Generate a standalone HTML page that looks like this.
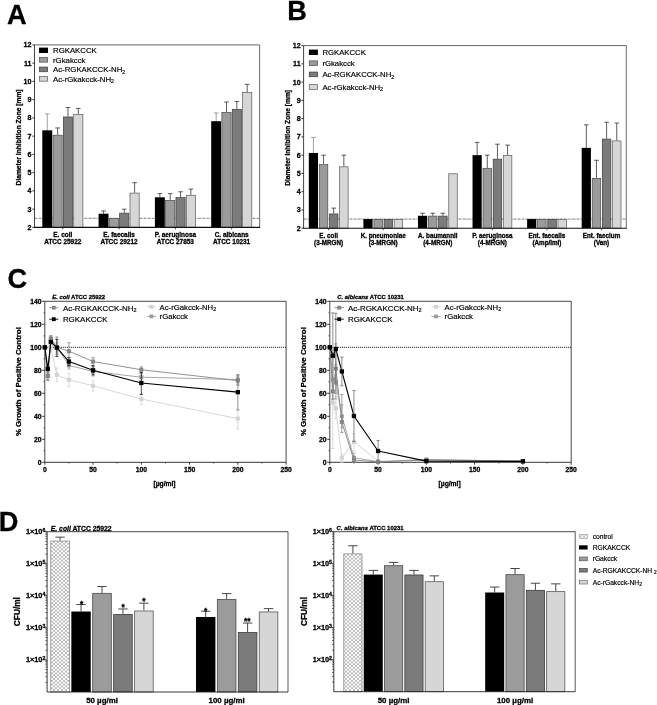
<!DOCTYPE html>
<html lang="en"><head><meta charset="utf-8"><title>Figure</title>
<style>
html,body{margin:0;padding:0;background:#fff;}
body{width:657px;height:705px;overflow:hidden;}
svg{display:block;filter:blur(0.32px);font-family:'Liberation Sans', Arial, sans-serif;}
text{stroke:#000;stroke-width:0.18px;}
text[font-weight=bold]{stroke-width:0.28px;}
</style></head><body>
<svg width="657" height="705" viewBox="0 0 657 705">
<defs>
<pattern id="hatch" width="4" height="3.7" patternUnits="userSpaceOnUse">
<rect width="4" height="3.7" fill="#fff"/>
<path d="M-1,-0.925 L5,4.625 M5,-0.925 L-1,4.625" stroke="#000" stroke-opacity="0.42" stroke-width="0.6" fill="none"/>
</pattern>
</defs>
<rect width="657" height="705" fill="#fff"/>

<text x="7.00" y="24.10" font-size="27.2" text-anchor="start" font-weight="bold" fill="#000" >A</text>
<text x="287.20" y="20.20" font-size="27.2" text-anchor="start" font-weight="bold" fill="#000" >B</text>
<text x="7.40" y="288.20" font-size="27.2" text-anchor="start" font-weight="bold" fill="#000" >C</text>
<text x="-1.20" y="530.70" font-size="27.2" text-anchor="start" font-weight="bold" fill="#000" >D</text>
<line x1="34.50" y1="218.28" x2="259.60" y2="218.28" stroke="#222" stroke-width="0.6" stroke-dasharray="2.4 0.6 0.6 0.6"/>
<line x1="47.25" y1="130.31" x2="47.25" y2="113.88" stroke="#8a8a8a" stroke-width="0.8" />
<line x1="44.95" y1="113.88" x2="49.55" y2="113.88" stroke="#8a8a8a" stroke-width="0.8" />
<rect x="42.30" y="130.31" width="9.90" height="97.09" fill="#000000" />
<line x1="57.60" y1="134.87" x2="57.60" y2="127.94" stroke="#333" stroke-width="0.8" />
<line x1="55.30" y1="127.94" x2="59.90" y2="127.94" stroke="#333" stroke-width="0.8" />
<rect x="53.00" y="135.22" width="9.20" height="92.18" fill="#9b9b9b" stroke="#4a4a4a" stroke-width="0.7" />
<line x1="67.95" y1="116.62" x2="67.95" y2="107.50" stroke="#333" stroke-width="0.8" />
<line x1="65.65" y1="107.50" x2="70.25" y2="107.50" stroke="#333" stroke-width="0.8" />
<rect x="63.35" y="116.97" width="9.20" height="110.43" fill="#7b7b7b" stroke="#3c3c3c" stroke-width="0.7" />
<line x1="78.30" y1="114.25" x2="78.30" y2="108.41" stroke="#333" stroke-width="0.8" />
<line x1="76.00" y1="108.41" x2="80.60" y2="108.41" stroke="#333" stroke-width="0.8" />
<rect x="73.70" y="114.60" width="9.20" height="112.80" fill="#d6d6d6" stroke="#5a5a5a" stroke-width="0.7" />
<line x1="103.55" y1="213.71" x2="103.55" y2="210.98" stroke="#333" stroke-width="0.8" />
<line x1="101.25" y1="210.98" x2="105.85" y2="210.98" stroke="#333" stroke-width="0.8" />
<rect x="98.60" y="213.71" width="9.90" height="13.69" fill="#000000" />
<rect x="109.30" y="218.62" width="9.20" height="8.78" fill="#9b9b9b" stroke="#4a4a4a" stroke-width="0.7" />
<line x1="124.25" y1="212.80" x2="124.25" y2="209.15" stroke="#333" stroke-width="0.8" />
<line x1="121.95" y1="209.15" x2="126.55" y2="209.15" stroke="#333" stroke-width="0.8" />
<rect x="119.65" y="213.15" width="9.20" height="14.25" fill="#7b7b7b" stroke="#3c3c3c" stroke-width="0.7" />
<line x1="134.60" y1="192.73" x2="134.60" y2="182.69" stroke="#333" stroke-width="0.8" />
<line x1="132.30" y1="182.69" x2="136.90" y2="182.69" stroke="#333" stroke-width="0.8" />
<rect x="130.00" y="193.08" width="9.20" height="34.32" fill="#d6d6d6" stroke="#5a5a5a" stroke-width="0.7" />
<line x1="159.85" y1="197.29" x2="159.85" y2="193.64" stroke="#333" stroke-width="0.8" />
<line x1="157.55" y1="193.64" x2="162.15" y2="193.64" stroke="#333" stroke-width="0.8" />
<rect x="154.90" y="197.29" width="9.90" height="30.11" fill="#000000" />
<line x1="170.20" y1="200.03" x2="170.20" y2="193.64" stroke="#333" stroke-width="0.8" />
<line x1="167.90" y1="193.64" x2="172.50" y2="193.64" stroke="#333" stroke-width="0.8" />
<rect x="165.60" y="200.38" width="9.20" height="27.02" fill="#9b9b9b" stroke="#4a4a4a" stroke-width="0.7" />
<line x1="180.55" y1="197.29" x2="180.55" y2="191.81" stroke="#333" stroke-width="0.8" />
<line x1="178.25" y1="191.81" x2="182.85" y2="191.81" stroke="#333" stroke-width="0.8" />
<rect x="175.95" y="197.64" width="9.20" height="29.76" fill="#7b7b7b" stroke="#3c3c3c" stroke-width="0.7" />
<line x1="190.90" y1="194.92" x2="190.90" y2="189.08" stroke="#333" stroke-width="0.8" />
<line x1="188.60" y1="189.08" x2="193.20" y2="189.08" stroke="#333" stroke-width="0.8" />
<rect x="186.30" y="195.27" width="9.20" height="32.13" fill="#d6d6d6" stroke="#5a5a5a" stroke-width="0.7" />
<line x1="216.15" y1="121.19" x2="216.15" y2="112.97" stroke="#8a8a8a" stroke-width="0.8" />
<line x1="213.85" y1="112.97" x2="218.45" y2="112.97" stroke="#8a8a8a" stroke-width="0.8" />
<rect x="211.20" y="121.19" width="9.90" height="106.22" fill="#000000" />
<line x1="226.50" y1="112.06" x2="226.50" y2="102.02" stroke="#333" stroke-width="0.8" />
<line x1="224.20" y1="102.02" x2="228.80" y2="102.02" stroke="#333" stroke-width="0.8" />
<rect x="221.90" y="112.41" width="9.20" height="114.99" fill="#9b9b9b" stroke="#4a4a4a" stroke-width="0.7" />
<line x1="236.85" y1="108.96" x2="236.85" y2="101.47" stroke="#333" stroke-width="0.8" />
<line x1="234.55" y1="101.47" x2="239.15" y2="101.47" stroke="#333" stroke-width="0.8" />
<rect x="232.25" y="109.31" width="9.20" height="118.09" fill="#7b7b7b" stroke="#3c3c3c" stroke-width="0.7" />
<line x1="247.20" y1="92.17" x2="247.20" y2="84.32" stroke="#333" stroke-width="0.8" />
<line x1="244.90" y1="84.32" x2="249.50" y2="84.32" stroke="#333" stroke-width="0.8" />
<rect x="242.60" y="92.52" width="9.20" height="134.88" fill="#d6d6d6" stroke="#5a5a5a" stroke-width="0.7" />
<line x1="34.50" y1="44.90" x2="259.60" y2="44.90" stroke="#555" stroke-width="0.9" />
<line x1="259.60" y1="44.90" x2="259.60" y2="227.40" stroke="#777" stroke-width="1.1" />
<line x1="34.50" y1="44.90" x2="34.50" y2="227.40" stroke="#444" stroke-width="1.0" />
<line x1="34.00" y1="227.40" x2="260.10" y2="227.40" stroke="#111" stroke-width="1.1" />
<line x1="32.30" y1="227.40" x2="34.50" y2="227.40" stroke="#222" stroke-width="0.9" />
<text x="31.50" y="229.90" font-size="7.1" text-anchor="end" font-weight="bold" fill="#000" >2</text>
<line x1="32.30" y1="209.15" x2="34.50" y2="209.15" stroke="#222" stroke-width="0.9" />
<text x="31.50" y="211.65" font-size="7.1" text-anchor="end" font-weight="bold" fill="#000" >3</text>
<line x1="32.30" y1="190.90" x2="34.50" y2="190.90" stroke="#222" stroke-width="0.9" />
<text x="31.50" y="193.40" font-size="7.1" text-anchor="end" font-weight="bold" fill="#000" >4</text>
<line x1="32.30" y1="172.65" x2="34.50" y2="172.65" stroke="#222" stroke-width="0.9" />
<text x="31.50" y="175.15" font-size="7.1" text-anchor="end" font-weight="bold" fill="#000" >5</text>
<line x1="32.30" y1="154.40" x2="34.50" y2="154.40" stroke="#222" stroke-width="0.9" />
<text x="31.50" y="156.90" font-size="7.1" text-anchor="end" font-weight="bold" fill="#000" >6</text>
<line x1="32.30" y1="136.15" x2="34.50" y2="136.15" stroke="#222" stroke-width="0.9" />
<text x="31.50" y="138.65" font-size="7.1" text-anchor="end" font-weight="bold" fill="#000" >7</text>
<line x1="32.30" y1="117.90" x2="34.50" y2="117.90" stroke="#222" stroke-width="0.9" />
<text x="31.50" y="120.40" font-size="7.1" text-anchor="end" font-weight="bold" fill="#000" >8</text>
<line x1="32.30" y1="99.65" x2="34.50" y2="99.65" stroke="#222" stroke-width="0.9" />
<text x="31.50" y="102.15" font-size="7.1" text-anchor="end" font-weight="bold" fill="#000" >9</text>
<line x1="32.30" y1="81.40" x2="34.50" y2="81.40" stroke="#222" stroke-width="0.9" />
<text x="31.50" y="83.90" font-size="7.1" text-anchor="end" font-weight="bold" fill="#000" >10</text>
<line x1="32.30" y1="63.15" x2="34.50" y2="63.15" stroke="#222" stroke-width="0.9" />
<text x="31.50" y="65.65" font-size="7.1" text-anchor="end" font-weight="bold" fill="#000" >11</text>
<line x1="32.30" y1="44.90" x2="34.50" y2="44.90" stroke="#222" stroke-width="0.9" />
<text x="31.50" y="47.40" font-size="7.1" text-anchor="end" font-weight="bold" fill="#000" >12</text>
<line x1="62.77" y1="227.40" x2="62.77" y2="229.40" stroke="#222" stroke-width="0.8" />
<text x="62.77" y="237.10" font-size="6.45" text-anchor="middle" font-weight="bold" fill="#000" >E. coli</text>
<text x="62.77" y="244.20" font-size="6.45" text-anchor="middle" font-weight="bold" fill="#000" >ATCC 25922</text>
<line x1="119.07" y1="227.40" x2="119.07" y2="229.40" stroke="#222" stroke-width="0.8" />
<text x="119.07" y="237.10" font-size="6.45" text-anchor="middle" font-weight="bold" fill="#000" >E. faecalis</text>
<text x="119.07" y="244.20" font-size="6.45" text-anchor="middle" font-weight="bold" fill="#000" >ATCC 29212</text>
<line x1="175.37" y1="227.40" x2="175.37" y2="229.40" stroke="#222" stroke-width="0.8" />
<text x="175.37" y="237.10" font-size="6.45" text-anchor="middle" font-weight="bold" fill="#000" >P. aeruginosa</text>
<text x="175.37" y="244.20" font-size="6.45" text-anchor="middle" font-weight="bold" fill="#000" >ATCC 27853</text>
<line x1="231.67" y1="227.40" x2="231.67" y2="229.40" stroke="#222" stroke-width="0.8" />
<text x="231.67" y="237.10" font-size="6.45" text-anchor="middle" font-weight="bold" fill="#000" >C. albicans</text>
<text x="231.67" y="244.20" font-size="6.45" text-anchor="middle" font-weight="bold" fill="#000" >ATCC 10231</text>
<text transform="translate(21.30,137.45) rotate(-90)" font-size="6.65" font-weight="bold" text-anchor="middle">Diameter Inhibition Zone [mm]</text>
<rect x="39.00" y="47.60" width="9.00" height="5.40" fill="#000000" />
<text x="53.00" y="53.10" font-size="7.8" text-anchor="start" font-weight="normal" fill="#000" >RGKAKCCK</text>
<rect x="39.35" y="57.45" width="8.30" height="4.70" fill="#9b9b9b" stroke="#4a4a4a" stroke-width="0.7" />
<text x="53.00" y="62.60" font-size="7.8" text-anchor="start" font-weight="normal" fill="#000" >rGkakcck</text>
<rect x="39.35" y="67.05" width="8.30" height="4.70" fill="#7b7b7b" stroke="#3c3c3c" stroke-width="0.7" />
<text x="53.00" y="72.20" font-size="7.8" text-anchor="start" font-weight="normal" fill="#000" >Ac-RGKAKCCK-NH<tspan font-size="5.2" dy="1.6">2</tspan></text>
<rect x="39.35" y="76.45" width="8.30" height="4.70" fill="#d6d6d6" stroke="#5a5a5a" stroke-width="0.7" />
<text x="53.00" y="81.60" font-size="7.8" text-anchor="start" font-weight="normal" fill="#000" >Ac-rGkakcck-NH<tspan font-size="5.2" dy="1.6">2</tspan></text>
<line x1="303.60" y1="219.07" x2="626.30" y2="219.07" stroke="#222" stroke-width="0.6" stroke-dasharray="2.4 0.6 0.6 0.6"/>
<line x1="313.40" y1="152.97" x2="313.40" y2="137.45" stroke="#8a8a8a" stroke-width="0.8" />
<line x1="311.10" y1="137.45" x2="315.70" y2="137.45" stroke="#8a8a8a" stroke-width="0.8" />
<rect x="308.80" y="152.97" width="9.20" height="75.23" fill="#000000" />
<line x1="323.55" y1="164.29" x2="323.55" y2="155.16" stroke="#333" stroke-width="0.8" />
<line x1="321.25" y1="155.16" x2="325.85" y2="155.16" stroke="#333" stroke-width="0.8" />
<rect x="319.30" y="164.64" width="8.50" height="63.56" fill="#9b9b9b" stroke="#4a4a4a" stroke-width="0.7" />
<line x1="333.70" y1="213.59" x2="333.70" y2="208.11" stroke="#333" stroke-width="0.8" />
<line x1="331.40" y1="208.11" x2="336.00" y2="208.11" stroke="#333" stroke-width="0.8" />
<rect x="329.45" y="213.94" width="8.50" height="14.26" fill="#7b7b7b" stroke="#3c3c3c" stroke-width="0.7" />
<line x1="343.85" y1="166.48" x2="343.85" y2="155.16" stroke="#333" stroke-width="0.8" />
<line x1="341.55" y1="155.16" x2="346.15" y2="155.16" stroke="#333" stroke-width="0.8" />
<rect x="339.60" y="166.83" width="8.50" height="61.37" fill="#d6d6d6" stroke="#5a5a5a" stroke-width="0.7" />
<rect x="363.38" y="219.07" width="9.20" height="9.13" fill="#000000" />
<rect x="373.88" y="219.42" width="8.50" height="8.78" fill="#9b9b9b" stroke="#4a4a4a" stroke-width="0.7" />
<rect x="384.03" y="219.42" width="8.50" height="8.78" fill="#7b7b7b" stroke="#3c3c3c" stroke-width="0.7" />
<rect x="394.18" y="219.42" width="8.50" height="8.78" fill="#d6d6d6" stroke="#5a5a5a" stroke-width="0.7" />
<line x1="422.56" y1="215.78" x2="422.56" y2="213.23" stroke="#333" stroke-width="0.8" />
<line x1="420.26" y1="213.23" x2="424.86" y2="213.23" stroke="#333" stroke-width="0.8" />
<rect x="417.96" y="215.78" width="9.20" height="12.42" fill="#000000" />
<line x1="432.71" y1="215.78" x2="432.71" y2="213.23" stroke="#333" stroke-width="0.8" />
<line x1="430.41" y1="213.23" x2="435.01" y2="213.23" stroke="#333" stroke-width="0.8" />
<rect x="428.46" y="216.13" width="8.50" height="12.07" fill="#9b9b9b" stroke="#4a4a4a" stroke-width="0.7" />
<line x1="442.86" y1="215.78" x2="442.86" y2="213.23" stroke="#333" stroke-width="0.8" />
<line x1="440.56" y1="213.23" x2="445.16" y2="213.23" stroke="#333" stroke-width="0.8" />
<rect x="438.61" y="216.13" width="8.50" height="12.07" fill="#7b7b7b" stroke="#3c3c3c" stroke-width="0.7" />
<rect x="448.76" y="173.77" width="8.50" height="54.43" fill="#d6d6d6" stroke="#5a5a5a" stroke-width="0.7" />
<line x1="477.14" y1="155.16" x2="477.14" y2="142.38" stroke="#333" stroke-width="0.8" />
<line x1="474.84" y1="142.38" x2="479.44" y2="142.38" stroke="#333" stroke-width="0.8" />
<rect x="472.54" y="155.16" width="9.20" height="73.04" fill="#000000" />
<line x1="487.29" y1="167.94" x2="487.29" y2="155.16" stroke="#333" stroke-width="0.8" />
<line x1="484.99" y1="155.16" x2="489.59" y2="155.16" stroke="#333" stroke-width="0.8" />
<rect x="483.04" y="168.29" width="8.50" height="59.91" fill="#9b9b9b" stroke="#4a4a4a" stroke-width="0.7" />
<line x1="497.44" y1="158.81" x2="497.44" y2="144.20" stroke="#333" stroke-width="0.8" />
<line x1="495.14" y1="144.20" x2="499.74" y2="144.20" stroke="#333" stroke-width="0.8" />
<rect x="493.19" y="159.16" width="8.50" height="69.04" fill="#7b7b7b" stroke="#3c3c3c" stroke-width="0.7" />
<line x1="507.59" y1="155.16" x2="507.59" y2="145.12" stroke="#333" stroke-width="0.8" />
<line x1="505.29" y1="145.12" x2="509.89" y2="145.12" stroke="#333" stroke-width="0.8" />
<rect x="503.34" y="155.51" width="8.50" height="72.69" fill="#d6d6d6" stroke="#5a5a5a" stroke-width="0.7" />
<rect x="527.12" y="219.07" width="9.20" height="9.13" fill="#000000" />
<rect x="537.62" y="219.42" width="8.50" height="8.78" fill="#9b9b9b" stroke="#4a4a4a" stroke-width="0.7" />
<rect x="547.77" y="219.42" width="8.50" height="8.78" fill="#7b7b7b" stroke="#3c3c3c" stroke-width="0.7" />
<rect x="557.92" y="219.42" width="8.50" height="8.78" fill="#d6d6d6" stroke="#5a5a5a" stroke-width="0.7" />
<line x1="586.30" y1="147.86" x2="586.30" y2="124.85" stroke="#333" stroke-width="0.8" />
<line x1="584.00" y1="124.85" x2="588.60" y2="124.85" stroke="#333" stroke-width="0.8" />
<rect x="581.70" y="147.86" width="9.20" height="80.34" fill="#000000" />
<line x1="596.45" y1="177.98" x2="596.45" y2="160.27" stroke="#333" stroke-width="0.8" />
<line x1="594.15" y1="160.27" x2="598.75" y2="160.27" stroke="#333" stroke-width="0.8" />
<rect x="592.20" y="178.33" width="8.50" height="49.87" fill="#9b9b9b" stroke="#4a4a4a" stroke-width="0.7" />
<line x1="606.60" y1="138.73" x2="606.60" y2="122.29" stroke="#333" stroke-width="0.8" />
<line x1="604.30" y1="122.29" x2="608.90" y2="122.29" stroke="#333" stroke-width="0.8" />
<rect x="602.35" y="139.08" width="8.50" height="89.12" fill="#7b7b7b" stroke="#3c3c3c" stroke-width="0.7" />
<line x1="616.75" y1="140.55" x2="616.75" y2="123.02" stroke="#333" stroke-width="0.8" />
<line x1="614.45" y1="123.02" x2="619.05" y2="123.02" stroke="#333" stroke-width="0.8" />
<rect x="612.50" y="140.90" width="8.50" height="87.30" fill="#d6d6d6" stroke="#5a5a5a" stroke-width="0.7" />
<line x1="303.60" y1="45.60" x2="626.30" y2="45.60" stroke="#555" stroke-width="0.9" />
<line x1="626.30" y1="45.60" x2="626.30" y2="228.20" stroke="#777" stroke-width="1.1" />
<line x1="303.60" y1="45.60" x2="303.60" y2="228.20" stroke="#444" stroke-width="1.0" />
<line x1="303.10" y1="228.20" x2="626.80" y2="228.20" stroke="#111" stroke-width="1.1" />
<line x1="301.40" y1="228.20" x2="303.60" y2="228.20" stroke="#222" stroke-width="0.9" />
<text x="300.60" y="230.70" font-size="7.1" text-anchor="end" font-weight="bold" fill="#000" >2</text>
<line x1="301.40" y1="209.94" x2="303.60" y2="209.94" stroke="#222" stroke-width="0.9" />
<text x="300.60" y="212.44" font-size="7.1" text-anchor="end" font-weight="bold" fill="#000" >3</text>
<line x1="301.40" y1="191.68" x2="303.60" y2="191.68" stroke="#222" stroke-width="0.9" />
<text x="300.60" y="194.18" font-size="7.1" text-anchor="end" font-weight="bold" fill="#000" >4</text>
<line x1="301.40" y1="173.42" x2="303.60" y2="173.42" stroke="#222" stroke-width="0.9" />
<text x="300.60" y="175.92" font-size="7.1" text-anchor="end" font-weight="bold" fill="#000" >5</text>
<line x1="301.40" y1="155.16" x2="303.60" y2="155.16" stroke="#222" stroke-width="0.9" />
<text x="300.60" y="157.66" font-size="7.1" text-anchor="end" font-weight="bold" fill="#000" >6</text>
<line x1="301.40" y1="136.90" x2="303.60" y2="136.90" stroke="#222" stroke-width="0.9" />
<text x="300.60" y="139.40" font-size="7.1" text-anchor="end" font-weight="bold" fill="#000" >7</text>
<line x1="301.40" y1="118.64" x2="303.60" y2="118.64" stroke="#222" stroke-width="0.9" />
<text x="300.60" y="121.14" font-size="7.1" text-anchor="end" font-weight="bold" fill="#000" >8</text>
<line x1="301.40" y1="100.38" x2="303.60" y2="100.38" stroke="#222" stroke-width="0.9" />
<text x="300.60" y="102.88" font-size="7.1" text-anchor="end" font-weight="bold" fill="#000" >9</text>
<line x1="301.40" y1="82.12" x2="303.60" y2="82.12" stroke="#222" stroke-width="0.9" />
<text x="300.60" y="84.62" font-size="7.1" text-anchor="end" font-weight="bold" fill="#000" >10</text>
<line x1="301.40" y1="63.86" x2="303.60" y2="63.86" stroke="#222" stroke-width="0.9" />
<text x="300.60" y="66.36" font-size="7.1" text-anchor="end" font-weight="bold" fill="#000" >11</text>
<line x1="301.40" y1="45.60" x2="303.60" y2="45.60" stroke="#222" stroke-width="0.9" />
<text x="300.60" y="48.10" font-size="7.1" text-anchor="end" font-weight="bold" fill="#000" >12</text>
<line x1="328.62" y1="228.20" x2="328.62" y2="230.20" stroke="#222" stroke-width="0.8" />
<text x="328.62" y="237.90" font-size="6.3" text-anchor="middle" font-weight="bold" fill="#000" >E. coli</text>
<text x="328.62" y="245.00" font-size="6.3" text-anchor="middle" font-weight="bold" fill="#000" >(3-MRGN)</text>
<line x1="383.20" y1="228.20" x2="383.20" y2="230.20" stroke="#222" stroke-width="0.8" />
<text x="383.20" y="237.90" font-size="6.3" text-anchor="middle" font-weight="bold" fill="#000" >K. pneumoniae</text>
<text x="383.20" y="245.00" font-size="6.3" text-anchor="middle" font-weight="bold" fill="#000" >(3-MRGN)</text>
<line x1="437.79" y1="228.20" x2="437.79" y2="230.20" stroke="#222" stroke-width="0.8" />
<text x="437.79" y="237.90" font-size="6.3" text-anchor="middle" font-weight="bold" fill="#000" >A. baumannii</text>
<text x="437.79" y="245.00" font-size="6.3" text-anchor="middle" font-weight="bold" fill="#000" >(4-MRGN)</text>
<line x1="492.37" y1="228.20" x2="492.37" y2="230.20" stroke="#222" stroke-width="0.8" />
<text x="492.37" y="237.90" font-size="6.3" text-anchor="middle" font-weight="bold" fill="#000" >P. aeruginosa</text>
<text x="492.37" y="245.00" font-size="6.3" text-anchor="middle" font-weight="bold" fill="#000" >(4-MRGN)</text>
<line x1="546.95" y1="228.20" x2="546.95" y2="230.20" stroke="#222" stroke-width="0.8" />
<text x="546.95" y="237.90" font-size="6.3" text-anchor="middle" font-weight="bold" fill="#000" >Ent. faecalis</text>
<text x="546.95" y="245.00" font-size="6.3" text-anchor="middle" font-weight="bold" fill="#000" >(Amp/Imi)</text>
<line x1="601.53" y1="228.20" x2="601.53" y2="230.20" stroke="#222" stroke-width="0.8" />
<text x="601.53" y="237.90" font-size="6.3" text-anchor="middle" font-weight="bold" fill="#000" >Ent. faecium</text>
<text x="601.53" y="245.00" font-size="6.3" text-anchor="middle" font-weight="bold" fill="#000" >(Van)</text>
<text transform="translate(290.20,137.90) rotate(-90)" font-size="6.65" font-weight="bold" text-anchor="middle">Diameter Inhibition Zone [mm]</text>
<rect x="308.90" y="49.60" width="9.00" height="5.40" fill="#000000" />
<text x="322.40" y="55.10" font-size="7.75" text-anchor="start" font-weight="normal" fill="#000" >RGKAKCCK</text>
<rect x="309.25" y="60.85" width="8.30" height="4.70" fill="#9b9b9b" stroke="#4a4a4a" stroke-width="0.7" />
<text x="322.40" y="66.00" font-size="7.75" text-anchor="start" font-weight="normal" fill="#000" >rGkakcck</text>
<rect x="309.25" y="72.05" width="8.30" height="4.70" fill="#7b7b7b" stroke="#3c3c3c" stroke-width="0.7" />
<text x="322.40" y="77.20" font-size="7.75" text-anchor="start" font-weight="normal" fill="#000" >Ac-RGKAKCCK-NH<tspan font-size="5.2" dy="1.6">2</tspan></text>
<rect x="309.25" y="84.65" width="8.30" height="4.70" fill="#d6d6d6" stroke="#5a5a5a" stroke-width="0.7" />
<text x="322.40" y="89.80" font-size="7.75" text-anchor="start" font-weight="normal" fill="#000" >Ac-rGkakcck-NH<tspan font-size="5.2" dy="1.6">2</tspan></text>
<line x1="44.80" y1="301.30" x2="286.10" y2="301.30" stroke="#333" stroke-width="0.9" />
<line x1="286.10" y1="301.30" x2="286.10" y2="462.30" stroke="#333" stroke-width="0.9" />
<line x1="44.80" y1="301.30" x2="44.80" y2="462.30" stroke="#333" stroke-width="0.9" />
<line x1="44.80" y1="462.30" x2="286.10" y2="462.30" stroke="#222" stroke-width="0.9" />
<line x1="44.80" y1="347.30" x2="286.10" y2="347.30" stroke="#000" stroke-width="0.9" stroke-dasharray="1.1 0.9"/>
<line x1="42.20" y1="462.30" x2="44.80" y2="462.30" stroke="#222" stroke-width="0.9" />
<text x="41.60" y="464.70" font-size="6.8" text-anchor="end" font-weight="bold" fill="#000" >0</text>
<line x1="43.40" y1="450.80" x2="44.80" y2="450.80" stroke="#333" stroke-width="0.7" />
<line x1="42.20" y1="439.30" x2="44.80" y2="439.30" stroke="#222" stroke-width="0.9" />
<text x="41.60" y="441.70" font-size="6.8" text-anchor="end" font-weight="bold" fill="#000" >20</text>
<line x1="43.40" y1="427.80" x2="44.80" y2="427.80" stroke="#333" stroke-width="0.7" />
<line x1="42.20" y1="416.30" x2="44.80" y2="416.30" stroke="#222" stroke-width="0.9" />
<text x="41.60" y="418.70" font-size="6.8" text-anchor="end" font-weight="bold" fill="#000" >40</text>
<line x1="43.40" y1="404.80" x2="44.80" y2="404.80" stroke="#333" stroke-width="0.7" />
<line x1="42.20" y1="393.30" x2="44.80" y2="393.30" stroke="#222" stroke-width="0.9" />
<text x="41.60" y="395.70" font-size="6.8" text-anchor="end" font-weight="bold" fill="#000" >60</text>
<line x1="43.40" y1="381.80" x2="44.80" y2="381.80" stroke="#333" stroke-width="0.7" />
<line x1="42.20" y1="370.30" x2="44.80" y2="370.30" stroke="#222" stroke-width="0.9" />
<text x="41.60" y="372.70" font-size="6.8" text-anchor="end" font-weight="bold" fill="#000" >80</text>
<line x1="43.40" y1="358.80" x2="44.80" y2="358.80" stroke="#333" stroke-width="0.7" />
<line x1="42.20" y1="347.30" x2="44.80" y2="347.30" stroke="#222" stroke-width="0.9" />
<text x="41.60" y="349.70" font-size="6.8" text-anchor="end" font-weight="bold" fill="#000" >100</text>
<line x1="43.40" y1="335.80" x2="44.80" y2="335.80" stroke="#333" stroke-width="0.7" />
<line x1="42.20" y1="324.30" x2="44.80" y2="324.30" stroke="#222" stroke-width="0.9" />
<text x="41.60" y="326.70" font-size="6.8" text-anchor="end" font-weight="bold" fill="#000" >120</text>
<line x1="43.40" y1="312.80" x2="44.80" y2="312.80" stroke="#333" stroke-width="0.7" />
<line x1="42.20" y1="301.30" x2="44.80" y2="301.30" stroke="#222" stroke-width="0.9" />
<text x="41.60" y="303.70" font-size="6.8" text-anchor="end" font-weight="bold" fill="#000" >140</text>
<line x1="44.80" y1="462.30" x2="44.80" y2="464.70" stroke="#222" stroke-width="0.9" />
<text x="44.80" y="471.60" font-size="6.8" text-anchor="middle" font-weight="bold" fill="#000" >0</text>
<line x1="68.93" y1="462.30" x2="68.93" y2="463.70" stroke="#333" stroke-width="0.7" />
<line x1="93.06" y1="462.30" x2="93.06" y2="464.70" stroke="#222" stroke-width="0.9" />
<text x="93.06" y="471.60" font-size="6.8" text-anchor="middle" font-weight="bold" fill="#000" >50</text>
<line x1="117.19" y1="462.30" x2="117.19" y2="463.70" stroke="#333" stroke-width="0.7" />
<line x1="141.32" y1="462.30" x2="141.32" y2="464.70" stroke="#222" stroke-width="0.9" />
<text x="141.32" y="471.60" font-size="6.8" text-anchor="middle" font-weight="bold" fill="#000" >100</text>
<line x1="165.45" y1="462.30" x2="165.45" y2="463.70" stroke="#333" stroke-width="0.7" />
<line x1="189.58" y1="462.30" x2="189.58" y2="464.70" stroke="#222" stroke-width="0.9" />
<text x="189.58" y="471.60" font-size="6.8" text-anchor="middle" font-weight="bold" fill="#000" >150</text>
<line x1="213.71" y1="462.30" x2="213.71" y2="463.70" stroke="#333" stroke-width="0.7" />
<line x1="237.84" y1="462.30" x2="237.84" y2="464.70" stroke="#222" stroke-width="0.9" />
<text x="237.84" y="471.60" font-size="6.8" text-anchor="middle" font-weight="bold" fill="#000" >200</text>
<line x1="261.97" y1="462.30" x2="261.97" y2="463.70" stroke="#333" stroke-width="0.7" />
<line x1="286.10" y1="462.30" x2="286.10" y2="464.70" stroke="#222" stroke-width="0.9" />
<text x="286.10" y="471.60" font-size="6.8" text-anchor="middle" font-weight="bold" fill="#000" >250</text>
<text x="164.55" y="485.80" font-size="6.7" text-anchor="middle" font-weight="bold" fill="#000" >[µg/ml]</text>
<text transform="translate(21.20,381.60) rotate(-90)" font-size="7.88" font-weight="bold" text-anchor="middle">% Growth of Positive Control</text>
<text x="52.30" y="299.30" font-size="5.9" text-anchor="start" font-weight="bold" fill="#000" ><tspan font-style="italic">E. coli</tspan> ATCC 25922</text>
<polyline points="44.80,347.30 47.82,374.90 50.83,347.30 56.86,374.90 68.93,379.85 93.06,385.71 141.32,399.05 237.84,418.60" fill="none" stroke="#d2d2d2" stroke-width="0.9" stroke-linejoin="round"/>
<rect x="42.80" y="345.30" width="4.00" height="4.00" fill="#d2d2d2" />
<rect x="45.82" y="372.90" width="4.00" height="4.00" fill="#d2d2d2" />
<rect x="48.83" y="345.30" width="4.00" height="4.00" fill="#d2d2d2" />
<line x1="56.86" y1="381.80" x2="56.86" y2="368.00" stroke="#d2d2d2" stroke-width="0.8" />
<line x1="55.26" y1="381.80" x2="58.46" y2="381.80" stroke="#d2d2d2" stroke-width="0.8" />
<line x1="55.26" y1="368.00" x2="58.46" y2="368.00" stroke="#d2d2d2" stroke-width="0.8" />
<rect x="54.86" y="372.90" width="4.00" height="4.00" fill="#d2d2d2" />
<line x1="68.93" y1="386.40" x2="68.93" y2="373.75" stroke="#d2d2d2" stroke-width="0.8" />
<line x1="67.33" y1="386.40" x2="70.53" y2="386.40" stroke="#d2d2d2" stroke-width="0.8" />
<line x1="67.33" y1="373.75" x2="70.53" y2="373.75" stroke="#d2d2d2" stroke-width="0.8" />
<rect x="66.93" y="377.85" width="4.00" height="4.00" fill="#d2d2d2" />
<line x1="93.06" y1="391.00" x2="93.06" y2="380.65" stroke="#d2d2d2" stroke-width="0.8" />
<line x1="91.46" y1="391.00" x2="94.66" y2="391.00" stroke="#d2d2d2" stroke-width="0.8" />
<line x1="91.46" y1="380.65" x2="94.66" y2="380.65" stroke="#d2d2d2" stroke-width="0.8" />
<rect x="91.06" y="383.71" width="4.00" height="4.00" fill="#d2d2d2" />
<line x1="141.32" y1="404.80" x2="141.32" y2="393.30" stroke="#d2d2d2" stroke-width="0.8" />
<line x1="139.72" y1="404.80" x2="142.92" y2="404.80" stroke="#d2d2d2" stroke-width="0.8" />
<line x1="139.72" y1="393.30" x2="142.92" y2="393.30" stroke="#d2d2d2" stroke-width="0.8" />
<rect x="139.32" y="397.05" width="4.00" height="4.00" fill="#d2d2d2" />
<line x1="237.84" y1="428.95" x2="237.84" y2="409.40" stroke="#d2d2d2" stroke-width="0.8" />
<line x1="236.24" y1="428.95" x2="239.44" y2="428.95" stroke="#d2d2d2" stroke-width="0.8" />
<line x1="236.24" y1="409.40" x2="239.44" y2="409.40" stroke="#d2d2d2" stroke-width="0.8" />
<rect x="235.84" y="416.60" width="4.00" height="4.00" fill="#d2d2d2" />
<polyline points="44.80,347.30 47.82,376.05 50.83,339.25 56.86,347.30 68.93,365.36 93.06,371.45 141.32,377.20 237.84,379.50" fill="none" stroke="#9c9c9c" stroke-width="0.9" stroke-linejoin="round"/>
<rect x="42.80" y="345.30" width="4.00" height="4.00" fill="#9c9c9c" />
<line x1="47.82" y1="379.50" x2="47.82" y2="372.60" stroke="#9c9c9c" stroke-width="0.8" />
<line x1="46.22" y1="379.50" x2="49.42" y2="379.50" stroke="#9c9c9c" stroke-width="0.8" />
<line x1="46.22" y1="372.60" x2="49.42" y2="372.60" stroke="#9c9c9c" stroke-width="0.8" />
<rect x="45.82" y="374.05" width="4.00" height="4.00" fill="#9c9c9c" />
<line x1="50.83" y1="342.70" x2="50.83" y2="335.80" stroke="#9c9c9c" stroke-width="0.8" />
<line x1="49.23" y1="342.70" x2="52.43" y2="342.70" stroke="#9c9c9c" stroke-width="0.8" />
<line x1="49.23" y1="335.80" x2="52.43" y2="335.80" stroke="#9c9c9c" stroke-width="0.8" />
<rect x="48.83" y="337.25" width="4.00" height="4.00" fill="#9c9c9c" />
<line x1="56.86" y1="351.90" x2="56.86" y2="342.70" stroke="#9c9c9c" stroke-width="0.8" />
<line x1="55.26" y1="351.90" x2="58.46" y2="351.90" stroke="#9c9c9c" stroke-width="0.8" />
<line x1="55.26" y1="342.70" x2="58.46" y2="342.70" stroke="#9c9c9c" stroke-width="0.8" />
<rect x="54.86" y="345.30" width="4.00" height="4.00" fill="#9c9c9c" />
<line x1="68.93" y1="369.15" x2="68.93" y2="361.10" stroke="#9c9c9c" stroke-width="0.8" />
<line x1="67.33" y1="369.15" x2="70.53" y2="369.15" stroke="#9c9c9c" stroke-width="0.8" />
<line x1="67.33" y1="361.10" x2="70.53" y2="361.10" stroke="#9c9c9c" stroke-width="0.8" />
<rect x="66.93" y="363.36" width="4.00" height="4.00" fill="#9c9c9c" />
<line x1="93.06" y1="376.05" x2="93.06" y2="366.85" stroke="#9c9c9c" stroke-width="0.8" />
<line x1="91.46" y1="376.05" x2="94.66" y2="376.05" stroke="#9c9c9c" stroke-width="0.8" />
<line x1="91.46" y1="366.85" x2="94.66" y2="366.85" stroke="#9c9c9c" stroke-width="0.8" />
<rect x="91.06" y="369.45" width="4.00" height="4.00" fill="#9c9c9c" />
<line x1="141.32" y1="381.80" x2="141.32" y2="372.60" stroke="#9c9c9c" stroke-width="0.8" />
<line x1="139.72" y1="381.80" x2="142.92" y2="381.80" stroke="#9c9c9c" stroke-width="0.8" />
<line x1="139.72" y1="372.60" x2="142.92" y2="372.60" stroke="#9c9c9c" stroke-width="0.8" />
<rect x="139.32" y="375.20" width="4.00" height="4.00" fill="#9c9c9c" />
<line x1="237.84" y1="384.10" x2="237.84" y2="374.90" stroke="#9c9c9c" stroke-width="0.8" />
<line x1="236.24" y1="384.10" x2="239.44" y2="384.10" stroke="#9c9c9c" stroke-width="0.8" />
<line x1="236.24" y1="374.90" x2="239.44" y2="374.90" stroke="#9c9c9c" stroke-width="0.8" />
<rect x="235.84" y="377.50" width="4.00" height="4.00" fill="#9c9c9c" />
<polyline points="44.80,347.30 47.82,376.05 50.83,338.45 56.86,347.30 68.93,351.21 93.06,361.56 141.32,369.73 237.84,380.65" fill="none" stroke="#868686" stroke-width="0.9" stroke-linejoin="round"/>
<rect x="42.80" y="345.30" width="4.00" height="4.00" fill="#868686" />
<line x1="47.82" y1="380.65" x2="47.82" y2="371.45" stroke="#868686" stroke-width="0.8" />
<line x1="46.22" y1="380.65" x2="49.42" y2="380.65" stroke="#868686" stroke-width="0.8" />
<line x1="46.22" y1="371.45" x2="49.42" y2="371.45" stroke="#868686" stroke-width="0.8" />
<rect x="45.82" y="374.05" width="4.00" height="4.00" fill="#868686" />
<line x1="50.83" y1="341.55" x2="50.83" y2="335.80" stroke="#868686" stroke-width="0.8" />
<line x1="49.23" y1="341.55" x2="52.43" y2="341.55" stroke="#868686" stroke-width="0.8" />
<line x1="49.23" y1="335.80" x2="52.43" y2="335.80" stroke="#868686" stroke-width="0.8" />
<rect x="48.83" y="336.45" width="4.00" height="4.00" fill="#868686" />
<line x1="56.86" y1="354.20" x2="56.86" y2="336.95" stroke="#868686" stroke-width="0.8" />
<line x1="55.26" y1="354.20" x2="58.46" y2="354.20" stroke="#868686" stroke-width="0.8" />
<line x1="55.26" y1="336.95" x2="58.46" y2="336.95" stroke="#868686" stroke-width="0.8" />
<rect x="54.86" y="345.30" width="4.00" height="4.00" fill="#868686" />
<line x1="68.93" y1="357.65" x2="68.93" y2="342.70" stroke="#868686" stroke-width="0.8" />
<line x1="67.33" y1="357.65" x2="70.53" y2="357.65" stroke="#868686" stroke-width="0.8" />
<line x1="67.33" y1="342.70" x2="70.53" y2="342.70" stroke="#868686" stroke-width="0.8" />
<rect x="66.93" y="349.21" width="4.00" height="4.00" fill="#868686" />
<line x1="93.06" y1="365.70" x2="93.06" y2="357.65" stroke="#868686" stroke-width="0.8" />
<line x1="91.46" y1="365.70" x2="94.66" y2="365.70" stroke="#868686" stroke-width="0.8" />
<line x1="91.46" y1="357.65" x2="94.66" y2="357.65" stroke="#868686" stroke-width="0.8" />
<rect x="91.06" y="359.56" width="4.00" height="4.00" fill="#868686" />
<line x1="141.32" y1="373.75" x2="141.32" y2="366.85" stroke="#868686" stroke-width="0.8" />
<line x1="139.72" y1="373.75" x2="142.92" y2="373.75" stroke="#868686" stroke-width="0.8" />
<line x1="139.72" y1="366.85" x2="142.92" y2="366.85" stroke="#868686" stroke-width="0.8" />
<rect x="139.32" y="367.73" width="4.00" height="4.00" fill="#868686" />
<line x1="237.84" y1="385.25" x2="237.84" y2="376.05" stroke="#868686" stroke-width="0.8" />
<line x1="236.24" y1="385.25" x2="239.44" y2="385.25" stroke="#868686" stroke-width="0.8" />
<line x1="236.24" y1="376.05" x2="239.44" y2="376.05" stroke="#868686" stroke-width="0.8" />
<rect x="235.84" y="378.65" width="4.00" height="4.00" fill="#868686" />
<polyline points="44.80,347.30 47.82,368.81 50.83,342.01 56.86,347.64 68.93,361.56 93.06,370.30 141.32,382.95 237.84,392.15" fill="none" stroke="#000" stroke-width="1.15" stroke-linejoin="round"/>
<rect x="42.65" y="345.15" width="4.30" height="4.30" fill="#000" />
<rect x="45.67" y="366.66" width="4.30" height="4.30" fill="#000" />
<rect x="48.68" y="339.86" width="4.30" height="4.30" fill="#000" />
<line x1="56.86" y1="356.50" x2="56.86" y2="339.25" stroke="#222" stroke-width="0.8" />
<line x1="55.26" y1="356.50" x2="58.46" y2="356.50" stroke="#222" stroke-width="0.8" />
<line x1="55.26" y1="339.25" x2="58.46" y2="339.25" stroke="#222" stroke-width="0.8" />
<rect x="54.71" y="345.50" width="4.30" height="4.30" fill="#000" />
<line x1="68.93" y1="365.70" x2="68.93" y2="357.65" stroke="#222" stroke-width="0.8" />
<line x1="67.33" y1="365.70" x2="70.53" y2="365.70" stroke="#222" stroke-width="0.8" />
<line x1="67.33" y1="357.65" x2="70.53" y2="357.65" stroke="#222" stroke-width="0.8" />
<rect x="66.78" y="359.41" width="4.30" height="4.30" fill="#000" />
<line x1="93.06" y1="374.90" x2="93.06" y2="365.70" stroke="#222" stroke-width="0.8" />
<line x1="91.46" y1="374.90" x2="94.66" y2="374.90" stroke="#222" stroke-width="0.8" />
<line x1="91.46" y1="365.70" x2="94.66" y2="365.70" stroke="#222" stroke-width="0.8" />
<rect x="90.91" y="368.15" width="4.30" height="4.30" fill="#000" />
<line x1="141.32" y1="394.45" x2="141.32" y2="372.60" stroke="#222" stroke-width="0.8" />
<line x1="139.72" y1="394.45" x2="142.92" y2="394.45" stroke="#222" stroke-width="0.8" />
<line x1="139.72" y1="372.60" x2="142.92" y2="372.60" stroke="#222" stroke-width="0.8" />
<rect x="139.17" y="380.80" width="4.30" height="4.30" fill="#000" />
<line x1="237.84" y1="409.98" x2="237.84" y2="374.90" stroke="#7a7a7a" stroke-width="0.8" />
<line x1="236.24" y1="409.98" x2="239.44" y2="409.98" stroke="#7a7a7a" stroke-width="0.8" />
<line x1="236.24" y1="374.90" x2="239.44" y2="374.90" stroke="#7a7a7a" stroke-width="0.8" />
<rect x="235.69" y="390.00" width="4.30" height="4.30" fill="#000" />
<line x1="49.20" y1="307.70" x2="58.40" y2="307.70" stroke="#868686" stroke-width="0.9" />
<rect x="51.90" y="305.80" width="3.80" height="3.80" fill="#868686" />
<text x="62.90" y="310.60" font-size="7.95" text-anchor="start" font-weight="normal" fill="#000" >Ac-RGKAKCCK-NH<tspan font-size="5.4" dy="1.6">2</tspan></text>
<line x1="49.20" y1="319.20" x2="58.40" y2="319.20" stroke="#000" stroke-width="0.9" />
<rect x="51.90" y="317.30" width="3.80" height="3.80" fill="#000" />
<text x="62.90" y="322.10" font-size="7.95" text-anchor="start" font-weight="normal" fill="#000" >RGKAKCCK</text>
<line x1="146.80" y1="306.80" x2="156.00" y2="306.80" stroke="#d2d2d2" stroke-width="0.9" />
<rect x="149.50" y="304.90" width="3.80" height="3.80" fill="#d2d2d2" />
<text x="159.60" y="309.70" font-size="7.72" text-anchor="start" font-weight="normal" fill="#000" >Ac-rGakcck-NH<tspan font-size="5.4" dy="1.6">2</tspan></text>
<line x1="146.80" y1="316.40" x2="156.00" y2="316.40" stroke="#9c9c9c" stroke-width="0.9" />
<rect x="149.50" y="314.50" width="3.80" height="3.80" fill="#9c9c9c" />
<text x="159.60" y="319.30" font-size="7.72" text-anchor="start" font-weight="normal" fill="#000" >rGakcck</text>
<line x1="329.80" y1="301.30" x2="571.20" y2="301.30" stroke="#333" stroke-width="0.9" />
<line x1="571.20" y1="301.30" x2="571.20" y2="462.30" stroke="#333" stroke-width="0.9" />
<line x1="329.80" y1="301.30" x2="329.80" y2="462.30" stroke="#333" stroke-width="0.9" />
<line x1="329.80" y1="462.30" x2="571.20" y2="462.30" stroke="#222" stroke-width="0.9" />
<line x1="329.80" y1="347.30" x2="571.20" y2="347.30" stroke="#000" stroke-width="0.9" stroke-dasharray="1.1 0.9"/>
<line x1="327.20" y1="462.30" x2="329.80" y2="462.30" stroke="#222" stroke-width="0.9" />
<text x="326.60" y="464.70" font-size="6.8" text-anchor="end" font-weight="bold" fill="#000" >0</text>
<line x1="328.40" y1="450.80" x2="329.80" y2="450.80" stroke="#333" stroke-width="0.7" />
<line x1="327.20" y1="439.30" x2="329.80" y2="439.30" stroke="#222" stroke-width="0.9" />
<text x="326.60" y="441.70" font-size="6.8" text-anchor="end" font-weight="bold" fill="#000" >20</text>
<line x1="328.40" y1="427.80" x2="329.80" y2="427.80" stroke="#333" stroke-width="0.7" />
<line x1="327.20" y1="416.30" x2="329.80" y2="416.30" stroke="#222" stroke-width="0.9" />
<text x="326.60" y="418.70" font-size="6.8" text-anchor="end" font-weight="bold" fill="#000" >40</text>
<line x1="328.40" y1="404.80" x2="329.80" y2="404.80" stroke="#333" stroke-width="0.7" />
<line x1="327.20" y1="393.30" x2="329.80" y2="393.30" stroke="#222" stroke-width="0.9" />
<text x="326.60" y="395.70" font-size="6.8" text-anchor="end" font-weight="bold" fill="#000" >60</text>
<line x1="328.40" y1="381.80" x2="329.80" y2="381.80" stroke="#333" stroke-width="0.7" />
<line x1="327.20" y1="370.30" x2="329.80" y2="370.30" stroke="#222" stroke-width="0.9" />
<text x="326.60" y="372.70" font-size="6.8" text-anchor="end" font-weight="bold" fill="#000" >80</text>
<line x1="328.40" y1="358.80" x2="329.80" y2="358.80" stroke="#333" stroke-width="0.7" />
<line x1="327.20" y1="347.30" x2="329.80" y2="347.30" stroke="#222" stroke-width="0.9" />
<text x="326.60" y="349.70" font-size="6.8" text-anchor="end" font-weight="bold" fill="#000" >100</text>
<line x1="328.40" y1="335.80" x2="329.80" y2="335.80" stroke="#333" stroke-width="0.7" />
<line x1="327.20" y1="324.30" x2="329.80" y2="324.30" stroke="#222" stroke-width="0.9" />
<text x="326.60" y="326.70" font-size="6.8" text-anchor="end" font-weight="bold" fill="#000" >120</text>
<line x1="328.40" y1="312.80" x2="329.80" y2="312.80" stroke="#333" stroke-width="0.7" />
<line x1="327.20" y1="301.30" x2="329.80" y2="301.30" stroke="#222" stroke-width="0.9" />
<text x="326.60" y="303.70" font-size="6.8" text-anchor="end" font-weight="bold" fill="#000" >140</text>
<line x1="329.80" y1="462.30" x2="329.80" y2="464.70" stroke="#222" stroke-width="0.9" />
<text x="329.80" y="471.60" font-size="6.8" text-anchor="middle" font-weight="bold" fill="#000" >0</text>
<line x1="353.94" y1="462.30" x2="353.94" y2="463.70" stroke="#333" stroke-width="0.7" />
<line x1="378.08" y1="462.30" x2="378.08" y2="464.70" stroke="#222" stroke-width="0.9" />
<text x="378.08" y="471.60" font-size="6.8" text-anchor="middle" font-weight="bold" fill="#000" >50</text>
<line x1="402.22" y1="462.30" x2="402.22" y2="463.70" stroke="#333" stroke-width="0.7" />
<line x1="426.36" y1="462.30" x2="426.36" y2="464.70" stroke="#222" stroke-width="0.9" />
<text x="426.36" y="471.60" font-size="6.8" text-anchor="middle" font-weight="bold" fill="#000" >100</text>
<line x1="450.50" y1="462.30" x2="450.50" y2="463.70" stroke="#333" stroke-width="0.7" />
<line x1="474.64" y1="462.30" x2="474.64" y2="464.70" stroke="#222" stroke-width="0.9" />
<text x="474.64" y="471.60" font-size="6.8" text-anchor="middle" font-weight="bold" fill="#000" >150</text>
<line x1="498.78" y1="462.30" x2="498.78" y2="463.70" stroke="#333" stroke-width="0.7" />
<line x1="522.92" y1="462.30" x2="522.92" y2="464.70" stroke="#222" stroke-width="0.9" />
<text x="522.92" y="471.60" font-size="6.8" text-anchor="middle" font-weight="bold" fill="#000" >200</text>
<line x1="547.06" y1="462.30" x2="547.06" y2="463.70" stroke="#333" stroke-width="0.7" />
<line x1="571.20" y1="462.30" x2="571.20" y2="464.70" stroke="#222" stroke-width="0.9" />
<text x="571.20" y="471.60" font-size="6.8" text-anchor="middle" font-weight="bold" fill="#000" >250</text>
<text x="449.60" y="485.80" font-size="6.7" text-anchor="middle" font-weight="bold" fill="#000" >[µg/ml]</text>
<text transform="translate(306.20,381.60) rotate(-90)" font-size="7.88" font-weight="bold" text-anchor="middle">% Growth of Positive Control</text>
<text x="337.30" y="299.30" font-size="5.9" text-anchor="start" font-weight="bold" fill="#000" ><tspan font-style="italic">C. albicans</tspan> ATCC 10231</text>
<polyline points="329.80,347.30 332.82,402.50 335.84,408.25 341.87,457.93 353.94,441.83 378.08,461.15 426.36,461.15 522.92,461.15" fill="none" stroke="#d2d2d2" stroke-width="0.9" stroke-linejoin="round"/>
<rect x="327.80" y="345.30" width="4.00" height="4.00" fill="#d2d2d2" />
<line x1="332.82" y1="448.50" x2="332.82" y2="313.38" stroke="#d2d2d2" stroke-width="0.8" />
<line x1="331.22" y1="448.50" x2="334.42" y2="448.50" stroke="#d2d2d2" stroke-width="0.8" />
<line x1="331.22" y1="313.38" x2="334.42" y2="313.38" stroke="#d2d2d2" stroke-width="0.8" />
<rect x="330.82" y="400.50" width="4.00" height="4.00" fill="#d2d2d2" />
<line x1="335.84" y1="418.60" x2="335.84" y2="396.75" stroke="#d2d2d2" stroke-width="0.8" />
<line x1="334.24" y1="418.60" x2="337.44" y2="418.60" stroke="#d2d2d2" stroke-width="0.8" />
<line x1="334.24" y1="396.75" x2="337.44" y2="396.75" stroke="#d2d2d2" stroke-width="0.8" />
<rect x="333.84" y="406.25" width="4.00" height="4.00" fill="#d2d2d2" />
<line x1="341.87" y1="462.30" x2="341.87" y2="454.25" stroke="#d2d2d2" stroke-width="0.8" />
<line x1="340.27" y1="462.30" x2="343.47" y2="462.30" stroke="#d2d2d2" stroke-width="0.8" />
<line x1="340.27" y1="454.25" x2="343.47" y2="454.25" stroke="#d2d2d2" stroke-width="0.8" />
<rect x="339.87" y="455.93" width="4.00" height="4.00" fill="#d2d2d2" />
<line x1="353.94" y1="450.80" x2="353.94" y2="433.55" stroke="#d2d2d2" stroke-width="0.8" />
<line x1="352.34" y1="450.80" x2="355.54" y2="450.80" stroke="#d2d2d2" stroke-width="0.8" />
<line x1="352.34" y1="433.55" x2="355.54" y2="433.55" stroke="#d2d2d2" stroke-width="0.8" />
<rect x="351.94" y="439.83" width="4.00" height="4.00" fill="#d2d2d2" />
<rect x="376.08" y="459.15" width="4.00" height="4.00" fill="#d2d2d2" />
<rect x="424.36" y="459.15" width="4.00" height="4.00" fill="#d2d2d2" />
<rect x="520.92" y="459.15" width="4.00" height="4.00" fill="#d2d2d2" />
<polyline points="329.80,347.30 332.82,379.50 335.84,381.80 341.87,416.30 353.94,457.70 378.08,461.73 426.36,459.43 522.92,461.15" fill="none" stroke="#9c9c9c" stroke-width="0.9" stroke-linejoin="round"/>
<rect x="327.80" y="345.30" width="4.00" height="4.00" fill="#9c9c9c" />
<line x1="332.82" y1="399.05" x2="332.82" y2="358.80" stroke="#9c9c9c" stroke-width="0.8" />
<line x1="331.22" y1="399.05" x2="334.42" y2="399.05" stroke="#9c9c9c" stroke-width="0.8" />
<line x1="331.22" y1="358.80" x2="334.42" y2="358.80" stroke="#9c9c9c" stroke-width="0.8" />
<rect x="330.82" y="377.50" width="4.00" height="4.00" fill="#9c9c9c" />
<line x1="335.84" y1="399.05" x2="335.84" y2="364.55" stroke="#9c9c9c" stroke-width="0.8" />
<line x1="334.24" y1="399.05" x2="337.44" y2="399.05" stroke="#9c9c9c" stroke-width="0.8" />
<line x1="334.24" y1="364.55" x2="337.44" y2="364.55" stroke="#9c9c9c" stroke-width="0.8" />
<rect x="333.84" y="379.80" width="4.00" height="4.00" fill="#9c9c9c" />
<line x1="341.87" y1="427.80" x2="341.87" y2="404.80" stroke="#9c9c9c" stroke-width="0.8" />
<line x1="340.27" y1="427.80" x2="343.47" y2="427.80" stroke="#9c9c9c" stroke-width="0.8" />
<line x1="340.27" y1="404.80" x2="343.47" y2="404.80" stroke="#9c9c9c" stroke-width="0.8" />
<rect x="339.87" y="414.30" width="4.00" height="4.00" fill="#9c9c9c" />
<line x1="353.94" y1="461.15" x2="353.94" y2="453.10" stroke="#9c9c9c" stroke-width="0.8" />
<line x1="352.34" y1="461.15" x2="355.54" y2="461.15" stroke="#9c9c9c" stroke-width="0.8" />
<line x1="352.34" y1="453.10" x2="355.54" y2="453.10" stroke="#9c9c9c" stroke-width="0.8" />
<rect x="351.94" y="455.70" width="4.00" height="4.00" fill="#9c9c9c" />
<rect x="376.08" y="459.73" width="4.00" height="4.00" fill="#9c9c9c" />
<rect x="424.36" y="457.43" width="4.00" height="4.00" fill="#9c9c9c" />
<rect x="520.92" y="459.15" width="4.00" height="4.00" fill="#9c9c9c" />
<polyline points="329.80,347.30 332.82,391.35 335.84,368.58 341.87,422.05 353.94,460.00 378.08,461.95 426.36,460.00 522.92,461.15" fill="none" stroke="#868686" stroke-width="0.9" stroke-linejoin="round"/>
<rect x="327.80" y="345.30" width="4.00" height="4.00" fill="#868686" />
<line x1="332.82" y1="399.05" x2="332.82" y2="312.80" stroke="#868686" stroke-width="0.8" />
<line x1="331.22" y1="399.05" x2="334.42" y2="399.05" stroke="#868686" stroke-width="0.8" />
<line x1="331.22" y1="312.80" x2="334.42" y2="312.80" stroke="#868686" stroke-width="0.8" />
<rect x="330.82" y="389.35" width="4.00" height="4.00" fill="#868686" />
<line x1="335.84" y1="393.30" x2="335.84" y2="343.85" stroke="#868686" stroke-width="0.8" />
<line x1="334.24" y1="393.30" x2="337.44" y2="393.30" stroke="#868686" stroke-width="0.8" />
<line x1="334.24" y1="343.85" x2="337.44" y2="343.85" stroke="#868686" stroke-width="0.8" />
<rect x="333.84" y="366.58" width="4.00" height="4.00" fill="#868686" />
<line x1="341.87" y1="432.40" x2="341.87" y2="394.45" stroke="#868686" stroke-width="0.8" />
<line x1="340.27" y1="432.40" x2="343.47" y2="432.40" stroke="#868686" stroke-width="0.8" />
<line x1="340.27" y1="394.45" x2="343.47" y2="394.45" stroke="#868686" stroke-width="0.8" />
<rect x="339.87" y="420.05" width="4.00" height="4.00" fill="#868686" />
<line x1="353.94" y1="462.30" x2="353.94" y2="456.55" stroke="#868686" stroke-width="0.8" />
<line x1="352.34" y1="462.30" x2="355.54" y2="462.30" stroke="#868686" stroke-width="0.8" />
<line x1="352.34" y1="456.55" x2="355.54" y2="456.55" stroke="#868686" stroke-width="0.8" />
<rect x="351.94" y="458.00" width="4.00" height="4.00" fill="#868686" />
<rect x="376.08" y="459.95" width="4.00" height="4.00" fill="#868686" />
<rect x="424.36" y="458.00" width="4.00" height="4.00" fill="#868686" />
<rect x="520.92" y="459.15" width="4.00" height="4.00" fill="#868686" />
<polyline points="329.80,347.30 332.82,355.70 335.84,349.03 341.87,371.45 353.94,415.96 378.08,451.03 426.36,461.15 522.92,461.38" fill="none" stroke="#000" stroke-width="1.15" stroke-linejoin="round"/>
<rect x="327.65" y="345.15" width="4.30" height="4.30" fill="#000" />
<rect x="330.67" y="353.55" width="4.30" height="4.30" fill="#000" />
<line x1="335.84" y1="384.10" x2="335.84" y2="313.26" stroke="#6e6e6e" stroke-width="0.8" />
<line x1="334.24" y1="384.10" x2="337.44" y2="384.10" stroke="#6e6e6e" stroke-width="0.8" />
<line x1="334.24" y1="313.26" x2="337.44" y2="313.26" stroke="#6e6e6e" stroke-width="0.8" />
<rect x="333.69" y="346.88" width="4.30" height="4.30" fill="#000" />
<line x1="341.87" y1="385.83" x2="341.87" y2="357.08" stroke="#6e6e6e" stroke-width="0.8" />
<line x1="340.27" y1="385.83" x2="343.47" y2="385.83" stroke="#6e6e6e" stroke-width="0.8" />
<line x1="340.27" y1="357.08" x2="343.47" y2="357.08" stroke="#6e6e6e" stroke-width="0.8" />
<rect x="339.72" y="369.30" width="4.30" height="4.30" fill="#000" />
<line x1="353.94" y1="441.60" x2="353.94" y2="390.54" stroke="#6e6e6e" stroke-width="0.8" />
<line x1="352.34" y1="441.60" x2="355.54" y2="441.60" stroke="#6e6e6e" stroke-width="0.8" />
<line x1="352.34" y1="390.54" x2="355.54" y2="390.54" stroke="#6e6e6e" stroke-width="0.8" />
<rect x="351.79" y="413.81" width="4.30" height="4.30" fill="#000" />
<line x1="378.08" y1="462.30" x2="378.08" y2="440.45" stroke="#6e6e6e" stroke-width="0.8" />
<line x1="376.48" y1="462.30" x2="379.68" y2="462.30" stroke="#6e6e6e" stroke-width="0.8" />
<line x1="376.48" y1="440.45" x2="379.68" y2="440.45" stroke="#6e6e6e" stroke-width="0.8" />
<rect x="375.93" y="448.88" width="4.30" height="4.30" fill="#000" />
<rect x="424.21" y="459.00" width="4.30" height="4.30" fill="#000" />
<rect x="520.77" y="459.23" width="4.30" height="4.30" fill="#000" />
<line x1="334.60" y1="307.70" x2="343.80" y2="307.70" stroke="#868686" stroke-width="0.9" />
<rect x="337.30" y="305.80" width="3.80" height="3.80" fill="#868686" />
<text x="348.00" y="310.60" font-size="7.95" text-anchor="start" font-weight="normal" fill="#000" >Ac-RGKAKCCK-NH<tspan font-size="5.4" dy="1.6">2</tspan></text>
<line x1="334.60" y1="319.20" x2="343.80" y2="319.20" stroke="#000" stroke-width="0.9" />
<rect x="337.30" y="317.30" width="3.80" height="3.80" fill="#000" />
<text x="348.00" y="322.10" font-size="7.95" text-anchor="start" font-weight="normal" fill="#000" >RGKAKCCK</text>
<line x1="431.40" y1="306.80" x2="440.60" y2="306.80" stroke="#d2d2d2" stroke-width="0.9" />
<rect x="434.10" y="304.90" width="3.80" height="3.80" fill="#d2d2d2" />
<text x="444.60" y="309.70" font-size="7.72" text-anchor="start" font-weight="normal" fill="#000" >Ac-rGakcck-NH<tspan font-size="5.4" dy="1.6">2</tspan></text>
<line x1="431.40" y1="316.40" x2="440.60" y2="316.40" stroke="#9c9c9c" stroke-width="0.9" />
<rect x="434.10" y="314.50" width="3.80" height="3.80" fill="#9c9c9c" />
<text x="444.60" y="319.30" font-size="7.72" text-anchor="start" font-weight="normal" fill="#000" >rGakcck</text>
<line x1="60.10" y1="540.68" x2="60.10" y2="537.15" stroke="#333" stroke-width="0.9" />
<line x1="55.40" y1="537.15" x2="64.80" y2="537.15" stroke="#333" stroke-width="0.9" />
<rect x="50.80" y="541.08" width="18.60" height="150.92" fill="url(#hatch)" stroke="#8a8a8a" stroke-width="0.8" />
<line x1="81.05" y1="611.53" x2="81.05" y2="604.48" stroke="#333" stroke-width="0.9" />
<line x1="76.35" y1="604.48" x2="85.75" y2="604.48" stroke="#333" stroke-width="0.9" />
<rect x="71.35" y="611.53" width="19.40" height="80.47" fill="#000000" />
<line x1="102.00" y1="592.93" x2="102.00" y2="586.52" stroke="#333" stroke-width="0.9" />
<line x1="97.30" y1="586.52" x2="106.70" y2="586.52" stroke="#333" stroke-width="0.9" />
<rect x="92.70" y="593.33" width="18.60" height="98.67" fill="#9b9b9b" stroke="#4a4a4a" stroke-width="0.8" />
<line x1="122.95" y1="614.09" x2="122.95" y2="608.96" stroke="#333" stroke-width="0.9" />
<line x1="118.25" y1="608.96" x2="127.65" y2="608.96" stroke="#333" stroke-width="0.9" />
<rect x="113.65" y="614.49" width="18.60" height="77.51" fill="#7b7b7b" stroke="#3c3c3c" stroke-width="0.8" />
<line x1="143.90" y1="610.57" x2="143.90" y2="603.19" stroke="#333" stroke-width="0.9" />
<line x1="139.20" y1="603.19" x2="148.60" y2="603.19" stroke="#333" stroke-width="0.9" />
<rect x="134.60" y="610.97" width="18.60" height="81.03" fill="#d6d6d6" stroke="#5a5a5a" stroke-width="0.8" />
<line x1="205.70" y1="616.98" x2="205.70" y2="611.21" stroke="#333" stroke-width="0.9" />
<line x1="201.00" y1="611.21" x2="210.40" y2="611.21" stroke="#333" stroke-width="0.9" />
<rect x="196.00" y="616.98" width="19.40" height="75.02" fill="#000000" />
<line x1="226.65" y1="599.03" x2="226.65" y2="593.58" stroke="#333" stroke-width="0.9" />
<line x1="221.95" y1="593.58" x2="231.35" y2="593.58" stroke="#333" stroke-width="0.9" />
<rect x="217.35" y="599.43" width="18.60" height="92.57" fill="#9b9b9b" stroke="#4a4a4a" stroke-width="0.8" />
<line x1="247.60" y1="632.05" x2="247.60" y2="623.07" stroke="#333" stroke-width="0.9" />
<line x1="242.90" y1="623.07" x2="252.30" y2="623.07" stroke="#333" stroke-width="0.9" />
<rect x="238.30" y="632.45" width="18.60" height="59.55" fill="#7b7b7b" stroke="#3c3c3c" stroke-width="0.8" />
<line x1="268.55" y1="611.53" x2="268.55" y2="608.64" stroke="#333" stroke-width="0.9" />
<line x1="263.85" y1="608.64" x2="273.25" y2="608.64" stroke="#333" stroke-width="0.9" />
<rect x="259.25" y="611.93" width="18.60" height="80.07" fill="#d6d6d6" stroke="#5a5a5a" stroke-width="0.8" />
<line x1="47.10" y1="531.70" x2="288.00" y2="531.70" stroke="#333" stroke-width="0.9" />
<line x1="288.00" y1="531.70" x2="288.00" y2="692.00" stroke="#444" stroke-width="0.9" />
<line x1="47.10" y1="531.70" x2="47.10" y2="692.00" stroke="#222" stroke-width="0.9" />
<line x1="47.10" y1="692.00" x2="288.00" y2="692.00" stroke="#222" stroke-width="0.9" />
<line x1="45.50" y1="682.35" x2="47.10" y2="682.35" stroke="#222" stroke-width="0.75" />
<line x1="45.50" y1="676.70" x2="47.10" y2="676.70" stroke="#222" stroke-width="0.75" />
<line x1="45.50" y1="672.70" x2="47.10" y2="672.70" stroke="#222" stroke-width="0.75" />
<line x1="45.50" y1="669.59" x2="47.10" y2="669.59" stroke="#222" stroke-width="0.75" />
<line x1="45.50" y1="667.05" x2="47.10" y2="667.05" stroke="#222" stroke-width="0.75" />
<line x1="45.50" y1="664.91" x2="47.10" y2="664.91" stroke="#222" stroke-width="0.75" />
<line x1="45.50" y1="663.05" x2="47.10" y2="663.05" stroke="#222" stroke-width="0.75" />
<line x1="45.50" y1="661.41" x2="47.10" y2="661.41" stroke="#222" stroke-width="0.75" />
<line x1="44.90" y1="659.94" x2="47.10" y2="659.94" stroke="#222" stroke-width="0.9" />
<text x="45.30" y="662.44" font-size="7.3" font-weight="bold" text-anchor="end">1×10<tspan font-size="5.2" dy="-2.7">2</tspan></text>
<line x1="45.50" y1="650.29" x2="47.10" y2="650.29" stroke="#222" stroke-width="0.75" />
<line x1="45.50" y1="644.64" x2="47.10" y2="644.64" stroke="#222" stroke-width="0.75" />
<line x1="45.50" y1="640.64" x2="47.10" y2="640.64" stroke="#222" stroke-width="0.75" />
<line x1="45.50" y1="637.53" x2="47.10" y2="637.53" stroke="#222" stroke-width="0.75" />
<line x1="45.50" y1="634.99" x2="47.10" y2="634.99" stroke="#222" stroke-width="0.75" />
<line x1="45.50" y1="632.85" x2="47.10" y2="632.85" stroke="#222" stroke-width="0.75" />
<line x1="45.50" y1="630.99" x2="47.10" y2="630.99" stroke="#222" stroke-width="0.75" />
<line x1="45.50" y1="629.35" x2="47.10" y2="629.35" stroke="#222" stroke-width="0.75" />
<line x1="44.90" y1="627.88" x2="47.10" y2="627.88" stroke="#222" stroke-width="0.9" />
<text x="45.30" y="630.38" font-size="7.3" font-weight="bold" text-anchor="end">1×10<tspan font-size="5.2" dy="-2.7">3</tspan></text>
<line x1="45.50" y1="618.23" x2="47.10" y2="618.23" stroke="#222" stroke-width="0.75" />
<line x1="45.50" y1="612.58" x2="47.10" y2="612.58" stroke="#222" stroke-width="0.75" />
<line x1="45.50" y1="608.58" x2="47.10" y2="608.58" stroke="#222" stroke-width="0.75" />
<line x1="45.50" y1="605.47" x2="47.10" y2="605.47" stroke="#222" stroke-width="0.75" />
<line x1="45.50" y1="602.93" x2="47.10" y2="602.93" stroke="#222" stroke-width="0.75" />
<line x1="45.50" y1="600.79" x2="47.10" y2="600.79" stroke="#222" stroke-width="0.75" />
<line x1="45.50" y1="598.93" x2="47.10" y2="598.93" stroke="#222" stroke-width="0.75" />
<line x1="45.50" y1="597.29" x2="47.10" y2="597.29" stroke="#222" stroke-width="0.75" />
<line x1="44.90" y1="595.82" x2="47.10" y2="595.82" stroke="#222" stroke-width="0.9" />
<text x="45.30" y="598.32" font-size="7.3" font-weight="bold" text-anchor="end">1×10<tspan font-size="5.2" dy="-2.7">4</tspan></text>
<line x1="45.50" y1="586.17" x2="47.10" y2="586.17" stroke="#222" stroke-width="0.75" />
<line x1="45.50" y1="580.52" x2="47.10" y2="580.52" stroke="#222" stroke-width="0.75" />
<line x1="45.50" y1="576.52" x2="47.10" y2="576.52" stroke="#222" stroke-width="0.75" />
<line x1="45.50" y1="573.41" x2="47.10" y2="573.41" stroke="#222" stroke-width="0.75" />
<line x1="45.50" y1="570.87" x2="47.10" y2="570.87" stroke="#222" stroke-width="0.75" />
<line x1="45.50" y1="568.73" x2="47.10" y2="568.73" stroke="#222" stroke-width="0.75" />
<line x1="45.50" y1="566.87" x2="47.10" y2="566.87" stroke="#222" stroke-width="0.75" />
<line x1="45.50" y1="565.23" x2="47.10" y2="565.23" stroke="#222" stroke-width="0.75" />
<line x1="44.90" y1="563.76" x2="47.10" y2="563.76" stroke="#222" stroke-width="0.9" />
<text x="45.30" y="566.26" font-size="7.3" font-weight="bold" text-anchor="end">1×10<tspan font-size="5.2" dy="-2.7">5</tspan></text>
<line x1="45.50" y1="554.11" x2="47.10" y2="554.11" stroke="#222" stroke-width="0.75" />
<line x1="45.50" y1="548.46" x2="47.10" y2="548.46" stroke="#222" stroke-width="0.75" />
<line x1="45.50" y1="544.46" x2="47.10" y2="544.46" stroke="#222" stroke-width="0.75" />
<line x1="45.50" y1="541.35" x2="47.10" y2="541.35" stroke="#222" stroke-width="0.75" />
<line x1="45.50" y1="538.81" x2="47.10" y2="538.81" stroke="#222" stroke-width="0.75" />
<line x1="45.50" y1="536.67" x2="47.10" y2="536.67" stroke="#222" stroke-width="0.75" />
<line x1="45.50" y1="534.81" x2="47.10" y2="534.81" stroke="#222" stroke-width="0.75" />
<line x1="45.50" y1="533.17" x2="47.10" y2="533.17" stroke="#222" stroke-width="0.75" />
<line x1="44.90" y1="531.70" x2="47.10" y2="531.70" stroke="#222" stroke-width="0.9" />
<text x="45.30" y="534.20" font-size="7.3" font-weight="bold" text-anchor="end">1×10<tspan font-size="5.2" dy="-2.7">6</tspan></text>
<text transform="translate(20.40,611.65) rotate(-90)" font-size="8.3" font-weight="bold" text-anchor="middle">CFU/ml</text>
<text x="50.80" y="530.50" font-size="6.8" text-anchor="start" font-weight="bold" fill="#000" ><tspan font-style="italic">E. coli</tspan> ATCC 25922</text>
<text x="102.00" y="702.90" font-size="7.9" text-anchor="middle" font-weight="bold" fill="#000" >50 µg/ml</text>
<text x="226.65" y="702.90" font-size="7.9" text-anchor="middle" font-weight="bold" fill="#000" >100 µg/ml</text>
<text x="81.70" y="606.50" font-size="8.4" text-anchor="middle" font-weight="bold" fill="#000" >*</text>
<text x="123.10" y="610.20" font-size="8.4" text-anchor="middle" font-weight="bold" fill="#000" >*</text>
<text x="143.90" y="603.90" font-size="8.4" text-anchor="middle" font-weight="bold" fill="#000" >*</text>
<text x="205.60" y="613.70" font-size="8.4" text-anchor="middle" font-weight="bold" fill="#000" >*</text>
<text x="247.30" y="624.10" font-size="8.4" text-anchor="middle" font-weight="bold" fill="#000" >**</text>
<line x1="352.90" y1="553.46" x2="352.90" y2="545.78" stroke="#333" stroke-width="0.9" />
<line x1="348.20" y1="545.78" x2="357.60" y2="545.78" stroke="#333" stroke-width="0.9" />
<rect x="343.80" y="553.86" width="18.20" height="137.84" fill="url(#hatch)" stroke="#8a8a8a" stroke-width="0.8" />
<line x1="373.25" y1="574.58" x2="373.25" y2="570.42" stroke="#333" stroke-width="0.9" />
<line x1="368.55" y1="570.42" x2="377.95" y2="570.42" stroke="#333" stroke-width="0.9" />
<rect x="363.75" y="574.58" width="19.00" height="117.12" fill="#000000" />
<line x1="393.60" y1="565.30" x2="393.60" y2="562.42" stroke="#333" stroke-width="0.9" />
<line x1="388.90" y1="562.42" x2="398.30" y2="562.42" stroke="#333" stroke-width="0.9" />
<rect x="384.50" y="565.70" width="18.20" height="126.00" fill="#9b9b9b" stroke="#4a4a4a" stroke-width="0.8" />
<line x1="413.95" y1="574.58" x2="413.95" y2="570.42" stroke="#333" stroke-width="0.9" />
<line x1="409.25" y1="570.42" x2="418.65" y2="570.42" stroke="#333" stroke-width="0.9" />
<rect x="404.85" y="574.98" width="18.20" height="116.72" fill="#7b7b7b" stroke="#3c3c3c" stroke-width="0.8" />
<line x1="434.30" y1="581.30" x2="434.30" y2="575.86" stroke="#333" stroke-width="0.9" />
<line x1="429.60" y1="575.86" x2="439.00" y2="575.86" stroke="#333" stroke-width="0.9" />
<rect x="425.20" y="581.70" width="18.20" height="110.00" fill="#d6d6d6" stroke="#5a5a5a" stroke-width="0.8" />
<line x1="494.70" y1="592.50" x2="494.70" y2="587.06" stroke="#333" stroke-width="0.9" />
<line x1="490.00" y1="587.06" x2="499.40" y2="587.06" stroke="#333" stroke-width="0.9" />
<rect x="485.20" y="592.50" width="19.00" height="99.20" fill="#000000" />
<line x1="515.05" y1="574.26" x2="515.05" y2="568.50" stroke="#333" stroke-width="0.9" />
<line x1="510.35" y1="568.50" x2="519.75" y2="568.50" stroke="#333" stroke-width="0.9" />
<rect x="505.95" y="574.66" width="18.20" height="117.04" fill="#9b9b9b" stroke="#4a4a4a" stroke-width="0.8" />
<line x1="535.40" y1="589.94" x2="535.40" y2="583.22" stroke="#333" stroke-width="0.9" />
<line x1="530.70" y1="583.22" x2="540.10" y2="583.22" stroke="#333" stroke-width="0.9" />
<rect x="526.30" y="590.34" width="18.20" height="101.36" fill="#7b7b7b" stroke="#3c3c3c" stroke-width="0.8" />
<line x1="555.75" y1="591.22" x2="555.75" y2="583.86" stroke="#333" stroke-width="0.9" />
<line x1="551.05" y1="583.86" x2="560.45" y2="583.86" stroke="#333" stroke-width="0.9" />
<rect x="546.65" y="591.62" width="18.20" height="100.08" fill="#d6d6d6" stroke="#5a5a5a" stroke-width="0.8" />
<line x1="333.80" y1="531.70" x2="575.20" y2="531.70" stroke="#333" stroke-width="0.9" />
<line x1="575.20" y1="531.70" x2="575.20" y2="691.70" stroke="#444" stroke-width="0.9" />
<line x1="333.80" y1="531.70" x2="333.80" y2="691.70" stroke="#222" stroke-width="0.9" />
<line x1="333.80" y1="691.70" x2="575.20" y2="691.70" stroke="#222" stroke-width="0.9" />
<line x1="332.20" y1="682.07" x2="333.80" y2="682.07" stroke="#222" stroke-width="0.75" />
<line x1="332.20" y1="676.43" x2="333.80" y2="676.43" stroke="#222" stroke-width="0.75" />
<line x1="332.20" y1="672.43" x2="333.80" y2="672.43" stroke="#222" stroke-width="0.75" />
<line x1="332.20" y1="669.33" x2="333.80" y2="669.33" stroke="#222" stroke-width="0.75" />
<line x1="332.20" y1="666.80" x2="333.80" y2="666.80" stroke="#222" stroke-width="0.75" />
<line x1="332.20" y1="664.66" x2="333.80" y2="664.66" stroke="#222" stroke-width="0.75" />
<line x1="332.20" y1="662.80" x2="333.80" y2="662.80" stroke="#222" stroke-width="0.75" />
<line x1="332.20" y1="661.16" x2="333.80" y2="661.16" stroke="#222" stroke-width="0.75" />
<line x1="331.60" y1="659.70" x2="333.80" y2="659.70" stroke="#222" stroke-width="0.9" />
<text x="332.00" y="662.20" font-size="7.3" font-weight="bold" text-anchor="end">1×10<tspan font-size="5.2" dy="-2.7">2</tspan></text>
<line x1="332.20" y1="650.07" x2="333.80" y2="650.07" stroke="#222" stroke-width="0.75" />
<line x1="332.20" y1="644.43" x2="333.80" y2="644.43" stroke="#222" stroke-width="0.75" />
<line x1="332.20" y1="640.43" x2="333.80" y2="640.43" stroke="#222" stroke-width="0.75" />
<line x1="332.20" y1="637.33" x2="333.80" y2="637.33" stroke="#222" stroke-width="0.75" />
<line x1="332.20" y1="634.80" x2="333.80" y2="634.80" stroke="#222" stroke-width="0.75" />
<line x1="332.20" y1="632.66" x2="333.80" y2="632.66" stroke="#222" stroke-width="0.75" />
<line x1="332.20" y1="630.80" x2="333.80" y2="630.80" stroke="#222" stroke-width="0.75" />
<line x1="332.20" y1="629.16" x2="333.80" y2="629.16" stroke="#222" stroke-width="0.75" />
<line x1="331.60" y1="627.70" x2="333.80" y2="627.70" stroke="#222" stroke-width="0.9" />
<text x="332.00" y="630.20" font-size="7.3" font-weight="bold" text-anchor="end">1×10<tspan font-size="5.2" dy="-2.7">3</tspan></text>
<line x1="332.20" y1="618.07" x2="333.80" y2="618.07" stroke="#222" stroke-width="0.75" />
<line x1="332.20" y1="612.43" x2="333.80" y2="612.43" stroke="#222" stroke-width="0.75" />
<line x1="332.20" y1="608.43" x2="333.80" y2="608.43" stroke="#222" stroke-width="0.75" />
<line x1="332.20" y1="605.33" x2="333.80" y2="605.33" stroke="#222" stroke-width="0.75" />
<line x1="332.20" y1="602.80" x2="333.80" y2="602.80" stroke="#222" stroke-width="0.75" />
<line x1="332.20" y1="600.66" x2="333.80" y2="600.66" stroke="#222" stroke-width="0.75" />
<line x1="332.20" y1="598.80" x2="333.80" y2="598.80" stroke="#222" stroke-width="0.75" />
<line x1="332.20" y1="597.16" x2="333.80" y2="597.16" stroke="#222" stroke-width="0.75" />
<line x1="331.60" y1="595.70" x2="333.80" y2="595.70" stroke="#222" stroke-width="0.9" />
<text x="332.00" y="598.20" font-size="7.3" font-weight="bold" text-anchor="end">1×10<tspan font-size="5.2" dy="-2.7">4</tspan></text>
<line x1="332.20" y1="586.07" x2="333.80" y2="586.07" stroke="#222" stroke-width="0.75" />
<line x1="332.20" y1="580.43" x2="333.80" y2="580.43" stroke="#222" stroke-width="0.75" />
<line x1="332.20" y1="576.43" x2="333.80" y2="576.43" stroke="#222" stroke-width="0.75" />
<line x1="332.20" y1="573.33" x2="333.80" y2="573.33" stroke="#222" stroke-width="0.75" />
<line x1="332.20" y1="570.80" x2="333.80" y2="570.80" stroke="#222" stroke-width="0.75" />
<line x1="332.20" y1="568.66" x2="333.80" y2="568.66" stroke="#222" stroke-width="0.75" />
<line x1="332.20" y1="566.80" x2="333.80" y2="566.80" stroke="#222" stroke-width="0.75" />
<line x1="332.20" y1="565.16" x2="333.80" y2="565.16" stroke="#222" stroke-width="0.75" />
<line x1="331.60" y1="563.70" x2="333.80" y2="563.70" stroke="#222" stroke-width="0.9" />
<text x="332.00" y="566.20" font-size="7.3" font-weight="bold" text-anchor="end">1×10<tspan font-size="5.2" dy="-2.7">5</tspan></text>
<line x1="332.20" y1="554.07" x2="333.80" y2="554.07" stroke="#222" stroke-width="0.75" />
<line x1="332.20" y1="548.43" x2="333.80" y2="548.43" stroke="#222" stroke-width="0.75" />
<line x1="332.20" y1="544.43" x2="333.80" y2="544.43" stroke="#222" stroke-width="0.75" />
<line x1="332.20" y1="541.33" x2="333.80" y2="541.33" stroke="#222" stroke-width="0.75" />
<line x1="332.20" y1="538.80" x2="333.80" y2="538.80" stroke="#222" stroke-width="0.75" />
<line x1="332.20" y1="536.66" x2="333.80" y2="536.66" stroke="#222" stroke-width="0.75" />
<line x1="332.20" y1="534.80" x2="333.80" y2="534.80" stroke="#222" stroke-width="0.75" />
<line x1="332.20" y1="533.16" x2="333.80" y2="533.16" stroke="#222" stroke-width="0.75" />
<line x1="331.60" y1="531.70" x2="333.80" y2="531.70" stroke="#222" stroke-width="0.9" />
<text x="332.00" y="534.20" font-size="7.3" font-weight="bold" text-anchor="end">1×10<tspan font-size="5.2" dy="-2.7">6</tspan></text>
<text transform="translate(307.10,611.50) rotate(-90)" font-size="8.3" font-weight="bold" text-anchor="middle">CFU/ml</text>
<text x="336.60" y="530.30" font-size="5.95" text-anchor="start" font-weight="bold" fill="#000" ><tspan font-style="italic">C. albicans</tspan> ATCC 10231</text>
<text x="393.60" y="702.60" font-size="7.9" text-anchor="middle" font-weight="bold" fill="#000" >50 µg/ml</text>
<text x="515.05" y="702.60" font-size="7.9" text-anchor="middle" font-weight="bold" fill="#000" >100 µg/ml</text>
<rect x="579.30" y="534.60" width="8.00" height="3.80" fill="url(#hatch)" stroke="#999" stroke-width="0.6" />
<text x="592.70" y="538.90" font-size="6.7" text-anchor="start" font-weight="normal" fill="#000" >control</text>
<rect x="579.00" y="545.30" width="8.60" height="4.20" fill="#000" />
<text x="592.70" y="549.80" font-size="6.7" text-anchor="start" font-weight="normal" fill="#000" >RGKAKCCK</text>
<rect x="579.30" y="557.00" width="8.00" height="3.80" fill="#9b9b9b" stroke="#4a4a4a" stroke-width="0.6" />
<text x="592.70" y="561.30" font-size="6.7" text-anchor="start" font-weight="normal" fill="#000" >rGakcck</text>
<rect x="579.30" y="568.30" width="8.00" height="3.80" fill="#7b7b7b" stroke="#3c3c3c" stroke-width="0.6" />
<text x="592.70" y="572.60" font-size="6.7" text-anchor="start" font-weight="normal" fill="#000" >Ac-RGKAKCCK-NH <tspan font-size="4.8" dy="1.6">2</tspan></text>
<rect x="579.30" y="580.20" width="8.00" height="3.80" fill="#d6d6d6" stroke="#5a5a5a" stroke-width="0.6" />
<text x="592.70" y="584.50" font-size="6.7" text-anchor="start" font-weight="normal" fill="#000" >Ac-rGakcck-NH<tspan font-size="4.8" dy="1.6">2</tspan></text>
</svg></body></html>
